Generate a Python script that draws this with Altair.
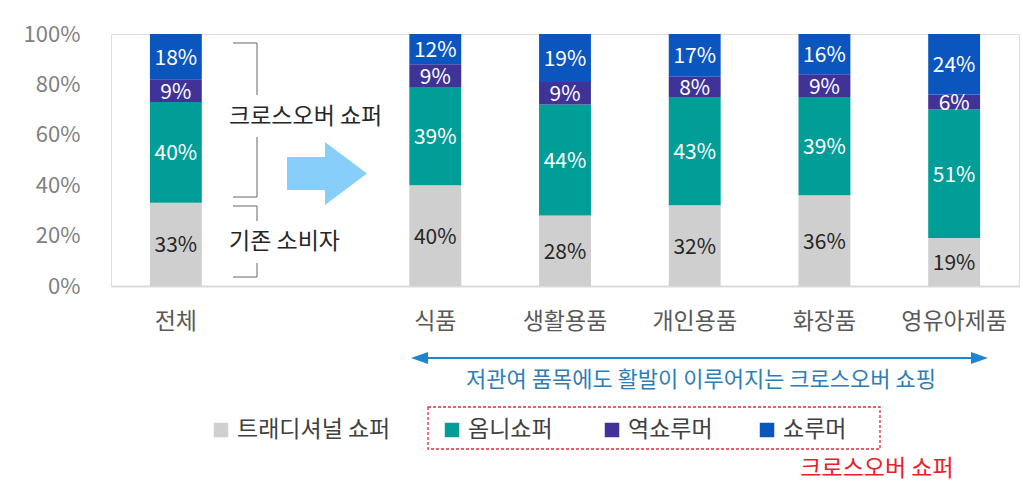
import altair as alt
import pandas as pd

# ---------------- data ----------------
categories = ["전체", "식품", "생활용품", "개인용품", "화장품", "영유아제품"]
x_domain = ["전체", " ", "식품", "생활용품", "개인용품", "화장품", "영유아제품"]
series = ["트래디셔널 쇼퍼", "옴니쇼퍼", "역쇼루머", "쇼루머"]
traditional = [33, 40, 28, 32, 36, 19]
omni = [40, 39, 44, 43, 39, 51]
reverse_showroomer = [9, 9, 9, 8, 9, 6]
showroomer = [18, 12, 19, 17, 16, 24]
colors = ["#CFCFCF", "#009E97", "#3F3397", "#0B55BF"]
y_ticks = [0, 20, 40, 60, 80, 100]

rows = []
for s_i, (name, vals) in enumerate(zip(series, [traditional, omni, reverse_showroomer, showroomer])):
    for c, v in zip(categories, vals):
        rows.append({"category": c, "series": name, "value": v, "order": s_i})
df = pd.DataFrame(rows)

FONT = "Noto Sans CJK KR"
W, H = 908, 252
PAD_L, PAD_T = 111, 34

x_enc = alt.X("category:N", sort=x_domain,
              scale=alt.Scale(domain=x_domain, paddingInner=0.6, paddingOuter=0.3),
              axis=alt.Axis(title=None, labelAngle=0, ticks=False, domainColor="#D9D9D9",
                            domainWidth=2, labelFontSize=23, labelColor="#595959",
                            labelPadding=24, labelFont=FONT))
color_scale = alt.Scale(domain=series, range=colors)

base = alt.Chart(df)
bars = base.mark_bar().encode(
    x=x_enc,
    y=alt.Y("value:Q", stack="zero", scale=alt.Scale(domain=[0, 100]),
            axis=alt.Axis(title=None, values=y_ticks, labelExpr="datum.value + '%'",
                          grid=False, domain=False, ticks=False, labelFontSize=22,
                          labelColor="#7F7F7F", labelPadding=31, labelFont=FONT)),
    color=alt.Color("series:N", scale=color_scale, legend=None),
    order=alt.Order("order:Q", sort="ascending"),
)

labels = base.transform_stack(
    stack="value", as_=["v0", "v1"], groupby=["category"],
    sort=[alt.SortField("order", order="ascending")]
).transform_calculate(
    mid="(datum.v0 + datum.v1) / 2",
    lbl="datum.value + '%'"
).mark_text(fontSize=21, font=FONT, baseline="middle", dy=2).encode(
    x=x_enc,
    y=alt.Y("mid:Q"),
    text="lbl:N",
    color=alt.condition(alt.datum.series == series[0], alt.value("#262626"), alt.value("#FFFFFF")),
)

one = alt.Data(values=[{"a": 1}])


def px(x):
    return x - PAD_L


def py(y):
    return y - PAD_T


def rule(x1, y1, x2, y2, color="#7F7F7F", width=1.2):
    return alt.Chart(one).mark_rule(color=color, strokeWidth=width).encode(
        x=alt.value(px(x1)), x2=alt.value(px(x2)), y=alt.value(py(y1)), y2=alt.value(py(y2)))


def label(txt, x, y, size, color, align="left"):
    return alt.Chart(one).mark_text(text=txt, font=FONT, fontSize=size, color=color,
                                    align=align, baseline="middle").encode(
        x=alt.value(px(x)), y=alt.value(py(y)))


layers = [bars, labels]

# brackets
layers += [
    rule(233, 43, 257, 43), rule(257, 43, 257, 95), rule(257, 137, 257, 197), rule(233, 197, 257, 197),
    rule(233, 206, 257, 206), rule(257, 206, 257, 221), rule(257, 263, 257, 277), rule(233, 277, 257, 277),
    label("크로스오버 쇼퍼", 229, 117, 23, "#262626"),
    label("기존 소비자", 229, 242, 23, "#262626"),
]

# block arrow
arrow_path = "M -1 -0.41 L -0.05 -0.41 L -0.05 -0.79 L 1 0 L -0.05 0.79 L -0.05 0.41 L -1 0.41 Z"
layers.append(alt.Chart(one).mark_point(shape=arrow_path, filled=True, fill="#87CEFA",
                                        opacity=1, strokeWidth=0, size=6400).encode(
    x=alt.value(px(327)), y=alt.value(py(173.5))))

# double arrow
layers.append(rule(420, 358, 979, 358, color="#1C87D0", width=2))
layers.append(alt.Chart(one).mark_point(shape="M -1 0 L 1 -0.7 L 1 0.7 Z", filled=True, fill="#1C87D0",
                                        opacity=1, strokeWidth=0, size=289).encode(
    x=alt.value(px(419.5)), y=alt.value(py(358))))
layers.append(alt.Chart(one).mark_point(shape="M 1 0 L -1 -0.7 L -1 0.7 Z", filled=True, fill="#1C87D0",
                                        opacity=1, strokeWidth=0, size=289).encode(
    x=alt.value(px(979.5)), y=alt.value(py(358))))
layers.append(label("저관여 품목에도 활발이 이루어지는 크로스오버 쇼핑", 701, 380, 22, "#2E7DB5", align="center"))

# legend
legend_sq_x = [221, 452, 612, 767]
for name, col, sx in zip(series, colors, legend_sq_x):
    layers.append(alt.Chart(one).mark_square(size=210, color=col, opacity=1).encode(
        x=alt.value(px(sx)), y=alt.value(py(430))))
    layers.append(label(name, sx + 16, 430, 23, "#404040"))

# dashed box + red label
layers.append(alt.Chart(one).mark_rect(fill=None, fillOpacity=0, stroke="#E0303A", strokeWidth=1.3,
                                       strokeDash=[3, 2]).encode(
    x=alt.value(px(428)), x2=alt.value(px(880)), y=alt.value(py(407)), y2=alt.value(py(449))))
layers.append(label("크로스오버 쇼퍼", 877, 469, 23, "#E8202A", align="center"))

chart = alt.layer(*layers).properties(
    width=W, height=H,
    autosize=alt.AutoSizeParams(type="none"),
    padding={"left": PAD_L, "top": PAD_T, "right": 4, "bottom": 484 - PAD_T - H},
).configure_view(stroke=None).configure(font=FONT)

chart.save("out.html", embed_options={"renderer": "svg", "actions": False})
